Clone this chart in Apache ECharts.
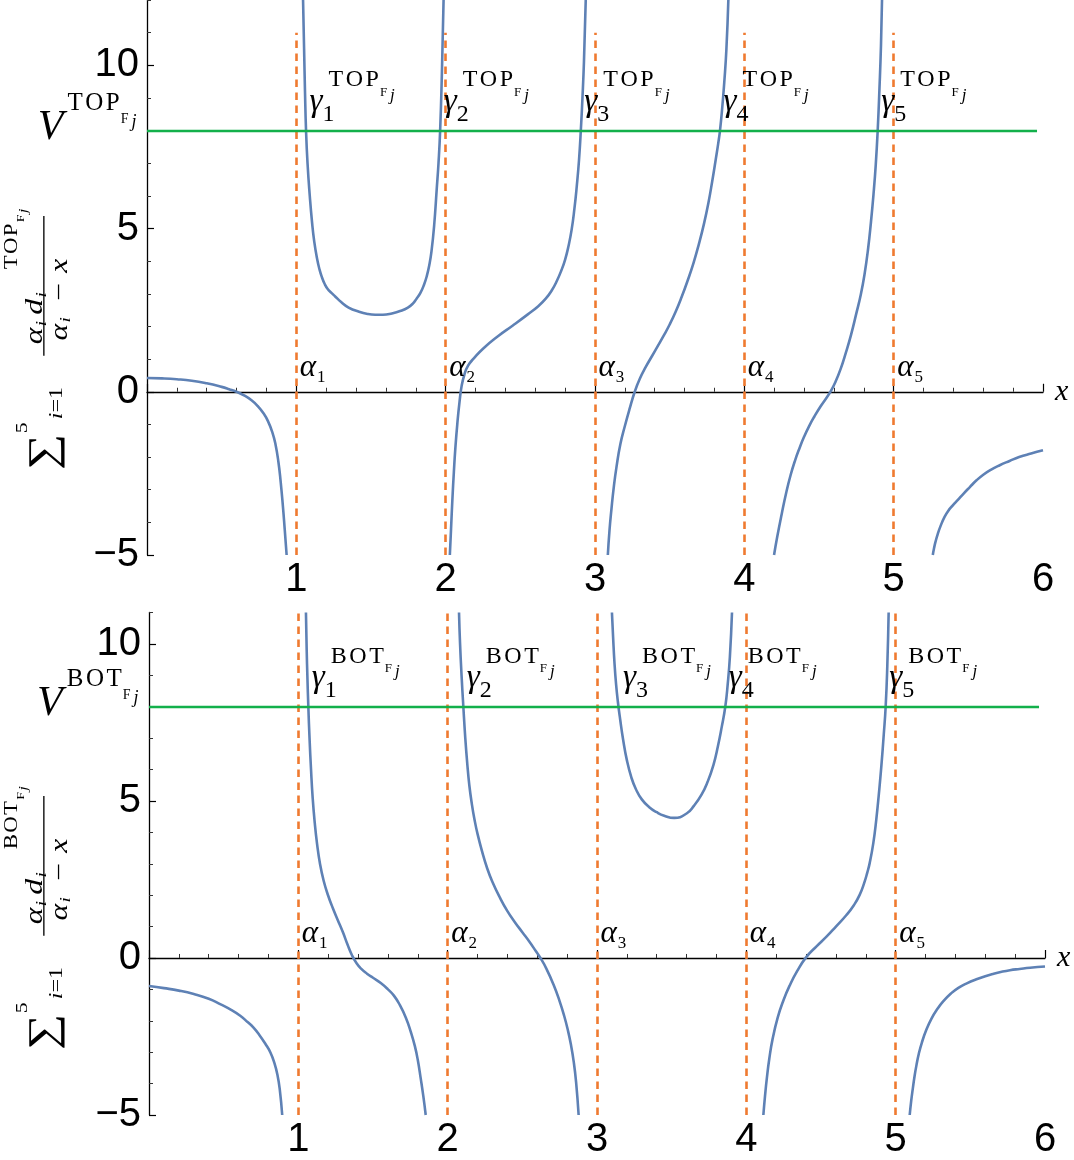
<!DOCTYPE html>
<html><head><meta charset="utf-8">
<script src="https://cdn.jsdelivr.net/npm/echarts@6/dist/echarts.min.js"></script>
<style>html,body{margin:0;padding:0;background:#fff}#c{width:1074px;height:1160px}</style>
</head><body><div id="c"></div>
<script>
// ---------- data ----------
const alphas = [1, 2, 3, 4, 5];
const vLevel = 8;
const xTicks = [1, 2, 3, 4, 5, 6];
const yTicks = [-5, 0, 5, 10];
const xRange = [0, 6];
const topRangeY = [-5, 12];
const botRangeY = [-5, 11];
const dashRange = [-5, 11];
const greenEnd = 5.96;
const gammaTop = [1.065, 1.963, 2.905, 3.837, 4.893];
const gammaBot = [1.067, 2.105, 3.151, 3.859, 4.933];

const topBranch1 = [[0,0.42],[0.1,0.41],[0.2,0.385],[0.3,0.34],[0.4,0.26],[0.5,0.15],[0.55,0.08],[0.6,0.0],[0.65,-0.11],[0.7,-0.26],[0.74,-0.43],[0.78,-0.66],[0.81,-0.9],[0.84,-1.25],[0.86,-1.6],[0.88,-2.15],[0.895,-2.75],[0.91,-3.5],[0.922,-4.2],[0.935,-5]];
const topBranch2 = [[1.045,12],[1.052,10.5],[1.058,9.2],[1.065,8],[1.075,7.0],[1.09,6.0],[1.105,5.2],[1.12,4.6],[1.14,4.05],[1.155,3.75],[1.172,3.5],[1.19,3.3],[1.21,3.15],[1.235,3.03],[1.26,2.92],[1.30,2.75],[1.35,2.58],[1.42,2.45],[1.48,2.38],[1.528,2.36],[1.58,2.36],[1.64,2.4],[1.70,2.48],[1.747,2.58],[1.78,2.7],[1.805,2.85],[1.83,3.02],[1.855,3.28],[1.874,3.55],[1.89,3.87],[1.905,4.3],[1.923,5.1],[1.94,6.2],[1.952,7.0],[1.963,8],[1.975,9.8],[1.986,12]];
const topBranch3 = [[2.028,-5],[2.036,-4.2],[2.045,-3.3],[2.055,-2.45],[2.065,-1.72],[2.078,-0.98],[2.093,-0.3],[2.107,0.18],[2.125,0.52],[2.15,0.8],[2.19,1.03],[2.25,1.32],[2.35,1.7],[2.45,2.03],[2.55,2.37],[2.62,2.62],[2.67,2.85],[2.71,3.1],[2.745,3.4],[2.775,3.72],[2.80,4.05],[2.822,4.45],[2.843,4.95],[2.862,5.6],[2.878,6.3],[2.893,7.1],[2.905,8],[2.916,9.0],[2.926,10.1],[2.938,12]];
const topBranch4 = [[3.086,-5],[3.097,-4.25],[3.11,-3.6],[3.125,-2.95],[3.144,-2.3],[3.17,-1.6],[3.2,-1.05],[3.23,-0.55],[3.266,0],[3.3,0.4],[3.34,0.76],[3.38,1.08],[3.42,1.4],[3.46,1.72],[3.5,2.06],[3.54,2.45],[3.58,2.9],[3.62,3.4],[3.66,3.95],[3.696,4.53],[3.73,5.15],[3.76,5.8],[3.785,6.45],[3.808,7.1],[3.825,7.6],[3.837,8],[3.852,8.7],[3.866,9.5],[3.88,10.5],[3.893,12]];
const topBranch5 = [[4.199,-5],[4.22,-4.45],[4.25,-3.75],[4.28,-3.1],[4.31,-2.55],[4.34,-2.1],[4.37,-1.72],[4.40,-1.38],[4.434,-1.05],[4.47,-0.75],[4.51,-0.45],[4.545,-0.22],[4.579,0.02],[4.61,0.3],[4.645,0.7],[4.68,1.2],[4.715,1.75],[4.75,2.4],[4.78,2.98],[4.805,3.6],[4.828,4.35],[4.848,5.2],[4.865,6.05],[4.88,6.95],[4.893,8],[4.905,9.3],[4.915,10.6],[4.922,12]];
const topBranch6 = [[5.262,-5],[5.27,-4.8],[5.28,-4.6],[5.295,-4.36],[5.315,-4.1],[5.34,-3.84],[5.365,-3.65],[5.396,-3.48],[5.43,-3.31],[5.47,-3.11],[5.51,-2.92],[5.553,-2.72],[5.6,-2.54],[5.65,-2.39],[5.71,-2.25],[5.776,-2.12],[5.84,-2.0],[5.92,-1.89],[6.0,-1.79]];

const botBranch1 = [[0,-0.89],[0.1,-0.96],[0.2,-1.04],[0.3,-1.15],[0.4,-1.3],[0.48,-1.48],[0.55,-1.65],[0.611,-1.84],[0.66,-2.04],[0.7,-2.22],[0.74,-2.46],[0.78,-2.74],[0.813,-3.01],[0.84,-3.35],[0.86,-3.72],[0.876,-4.2],[0.892,-5]];
const botBranch2 = [[1.051,11],[1.056,9.8],[1.061,8.9],[1.067,8],[1.075,7.0],[1.085,6.0],[1.096,5.1],[1.11,4.3],[1.125,3.65],[1.145,3.0],[1.17,2.45],[1.2,1.98],[1.23,1.6],[1.263,1.22],[1.3,0.8],[1.33,0.42],[1.36,0.08],[1.39,-0.17],[1.42,-0.34],[1.46,-0.5],[1.5,-0.63],[1.552,-0.8],[1.6,-1.0],[1.64,-1.2],[1.68,-1.5],[1.72,-1.9],[1.753,-2.35],[1.78,-2.8],[1.80,-3.25],[1.82,-3.85],[1.837,-4.4],[1.853,-5]];
const botBranch3 = [[2.076,11],[2.083,10.0],[2.093,9.0],[2.105,8],[2.118,7.0],[2.131,6.2],[2.145,5.5],[2.162,4.9],[2.18,4.4],[2.2,3.95],[2.23,3.4],[2.265,2.85],[2.3,2.42],[2.35,1.92],[2.399,1.5],[2.45,1.14],[2.5,0.82],[2.55,0.5],[2.59,0.22],[2.621,0],[2.66,-0.33],[2.71,-0.86],[2.75,-1.38],[2.78,-1.84],[2.805,-2.3],[2.825,-2.75],[2.844,-3.3],[2.86,-3.95],[2.877,-5]];
const botBranch4 = [[3.10,11],[3.108,10.2],[3.117,9.4],[3.128,8.7],[3.14,8.15],[3.155,7.6],[3.175,6.95],[3.20,6.3],[3.23,5.75],[3.26,5.38],[3.3,5.05],[3.35,4.8],[3.40,4.64],[3.45,4.53],[3.517,4.46],[3.6,4.6],[3.65,4.85],[3.7,5.2],[3.74,5.6],[3.78,6.15],[3.81,6.75],[3.835,7.35],[3.859,8],[3.875,8.7],[3.89,9.6],[3.904,11]];
const botBranch5 = [[4.114,-5],[4.125,-4.4],[4.138,-3.8],[4.154,-3.2],[4.175,-2.6],[4.21,-1.9],[4.25,-1.33],[4.289,-0.89],[4.34,-0.42],[4.40,0.02],[4.47,0.37],[4.535,0.67],[4.6,1.0],[4.669,1.36],[4.72,1.68],[4.758,2.0],[4.79,2.4],[4.81,2.72],[4.826,3.02],[4.85,3.65],[4.87,4.4],[4.888,5.25],[4.904,6.1],[4.92,7.1],[4.933,8],[4.944,9.3],[4.953,11]];
const botBranch6 = [[5.094,-5],[5.104,-4.55],[5.115,-4.15],[5.127,-3.75],[5.139,-3.42],[5.155,-3.05],[5.175,-2.7],[5.206,-2.28],[5.24,-1.93],[5.28,-1.62],[5.318,-1.38],[5.37,-1.13],[5.42,-0.95],[5.48,-0.8],[5.541,-0.68],[5.6,-0.58],[5.65,-0.51],[5.71,-0.44],[5.765,-0.39],[5.83,-0.35],[5.9,-0.31],[6.0,-0.27]];

const topBranches = [topBranch1, topBranch2, topBranch3, topBranch4, topBranch5, topBranch6];
const botBranches = [botBranch1, botBranch2, botBranch3, botBranch4, botBranch5, botBranch6];

// ---------- styling ----------
const SERIF = '"Liberation Serif", "Times New Roman", serif';
const SANS = '"Liberation Sans", Arial, sans-serif';
const BLUE = '#5E81B5', ORANGE = '#EF7A30', GREEN = '#13B04B';

function spaced(word, a, b) {
  return word.split('').map((ch, k, arr) => `{${k < arr.length - 1 ? a : b}|${ch}}`).join('');
}

const richAll = {
  g: {fontFamily: SERIF, fontStyle: 'italic', fontSize: 33, color: '#000'},
  n: {fontFamily: SERIF, fontSize: 24, color: '#000', padding: [24, 0, 0, 0], width: 6},
  sa: {fontFamily: SERIF, fontSize: 24, color: '#000', padding: [0, 2.5, 45, 0]},
  sb: {fontFamily: SERIF, fontSize: 24, color: '#000', padding: [0, 1, 45, 0]},
  F: {fontFamily: SERIF, fontSize: 13, color: '#000', padding: [0, 3, 20, 0]},
  j: {fontFamily: SERIF, fontStyle: 'italic', fontSize: 17, color: '#000', padding: [0, 0, 14, 0]},
  a: {fontFamily: SERIF, fontStyle: 'italic', fontSize: 31, color: '#000'},
  m: {fontFamily: SERIF, fontSize: 17, color: '#000', padding: [19, 0, 0, 1]},
  V: {fontFamily: SERIF, fontStyle: 'italic', fontSize: 42, color: '#000', padding: [0, 4, 0, 0]},
  va: {fontFamily: SERIF, fontSize: 25, color: '#000', padding: [0, 2.5, 48, 0]},
  vb: {fontFamily: SERIF, fontSize: 25, color: '#000', padding: [0, 1, 48, 0]},
  F2: {fontFamily: SERIF, fontSize: 14, color: '#000', padding: [0, 3, 16, 0]},
  j2: {fontFamily: SERIF, fontStyle: 'italic', fontSize: 18, color: '#000', padding: [0, 0, 10, 0]}
};

function panelMarks(word, gammas) {
  const points = [];
  points.push({coord: [xRange[0], vLevel],
    label: {formatter: '{V|V}' + spaced(word, 'va', 'vb') + '{F2|F}{j2|j}', position: 'left', distance: 10, offset: [0, -3]}});
  gammas.forEach((g, i) => points.push({coord: [g, vLevel],
    label: {formatter: `{g|γ}{n|${i + 1}}` + spaced(word, 'sa', 'sb') + '{F|F}{j|j}', position: 'right', distance: 3, offset: [0, -28]}}));
  alphas.forEach((a, i) => points.push({coord: [a, 0],
    label: {formatter: `{a|α}{m|${i + 1}}`, position: 'right', distance: 3, offset: [0, -24]}}));
  return points;
}

function makeSeries(branches, axisIdx, word, gammas) {
  return branches.map((br, k) => {
    const s = {
      type: 'line', xAxisIndex: axisIdx, yAxisIndex: axisIdx * 2, data: br,
      showSymbol: false, smooth: 0.5, clip: true,
      lineStyle: {color: BLUE, width: 2.6}, itemStyle: {color: BLUE},
      animation: false, silent: true, z: 3
    };
    if (k === 0) {
      s.markLine = {
        silent: true, symbol: ['none', 'none'], animation: false,
        label: {show: false},
        lineStyle: {color: ORANGE, width: 2.6, type: [7.5, 5.5]},
        data: alphas.map(a => [{coord: [a, dashRange[0]]}, {coord: [a, dashRange[1]]}])
      };
      s.markPoint = {
        silent: true, animation: false, symbol: 'circle', symbolSize: 1,
        itemStyle: {color: 'rgba(0,0,0,0)'},
        label: {show: true, rich: richAll, color: '#000'},
        data: panelMarks(word, gammas)
      };
    }
    if (k === 1) {
      s.markLine = {
        silent: true, symbol: ['none', 'none'], animation: false,
        label: {show: false},
        lineStyle: {color: GREEN, width: 2.4, type: 'solid'},
        data: [[{coord: [xRange[0], vLevel]}, {coord: [greenEnd, vLevel]}]]
      };
    }
    return s;
  });
}

function xAxisCfg(gi) {
  return {
    gridIndex: gi, type: 'value', min: xRange[0], max: xRange[1], interval: 1,
    axisLine: {show: true, onZero: true, lineStyle: {color: '#000', width: 1.3}},
    axisTick: {show: true, inside: true, length: 8, lineStyle: {color: '#000', width: 1.2}},
    minorTick: {show: true, splitNumber: 5, length: 4, lineStyle: {color: '#333', width: 1}},
    splitLine: {show: false},
    axisLabel: {formatter: v => xTicks.includes(v) ? String(v) : '', fontFamily: SANS, fontSize: 40, color: '#000', margin: 5},
    name: 'x', nameLocation: 'end', nameGap: 12,
    nameTextStyle: {fontFamily: SERIF, fontStyle: 'italic', fontSize: 30, color: '#000', padding: [0, 0, 8, 0]}
  };
}
function yAxisMain(gi, rng) {
  return {
    gridIndex: gi, type: 'value', min: rng[0], max: rng[1], interval: 1, position: 'left',
    axisLine: {show: true, onZero: true, lineStyle: {color: '#000', width: 1.3}},
    axisTick: {show: true, inside: true, length: 4, lineStyle: {color: '#333', width: 1}},
    splitLine: {show: false},
    axisLabel: {formatter: v => yTicks.includes(v) ? (v < 0 ? '\u2212' + (-v) : String(v)) : '',
      fontFamily: SANS, fontSize: 40, color: '#000', margin: 8}
  };
}
function yAxisMajor(gi, rng) {
  return {
    gridIndex: gi, type: 'value', min: rng[0], max: rng[1], position: 'left',
    axisLine: {show: false, onZero: false},
    axisTick: {show: true, inside: true, length: 7, customValues: yTicks, lineStyle: {color: '#000', width: 1.2}},
    axisLabel: {show: false}, splitLine: {show: false}
  };
}

function yTitle(word, baseY) {
  const rich = {
    a: {fontFamily: SERIF, fontStyle: 'italic', fontSize: 25, color: '#000'},
    s: {fontFamily: SERIF, fontStyle: 'italic', fontSize: 15, color: '#000', padding: [12, 5, 0, 1]},
    o: {fontFamily: SERIF, fontSize: 25, color: '#000', padding: [0, 8, 0, 8]},
    T: {fontFamily: SERIF, fontSize: 18, color: '#000', padding: [0, 1, 0, 0]},
    Tb: {fontFamily: SERIF, fontSize: 18, color: '#000', padding: [0, 1, 0, 0]},
    F: {fontFamily: SERIF, fontSize: 11, color: '#000', padding: [18, 1, 0, 0]},
    j: {fontFamily: SERIF, fontStyle: 'italic', fontSize: 13, color: '#000', padding: [22, 0, 0, 0]},
    i: {fontFamily: SERIF, fontStyle: 'italic', fontSize: 19, color: '#000'},
    r: {fontFamily: SERIF, fontSize: 19, color: '#000'}
  };
  const txt = (x, y, text, extra) => ({type: 'text', x, y, silent: true,
    style: Object.assign({text, rich, fill: '#000', align: 'left', verticalAlign: 'middle'}, extra || {})});
  return {
    type: 'group', x: 0, y: baseY, rotation: Math.PI / 2, scaleX: 1.27, scaleY: 1.02, silent: true,
    children: [
      txt(0, 44, '\u2211', {font: `40px ${SERIF}`}),
      txt(29, 22, '5', {font: `17px ${SERIF}`}),
      txt(40, 56, '{i|i}{r|=1}'),
      txt(99, 35, '{a|α}{s|i}{a|d}{s|i}'),
      txt(158, 12, spaced(word, 'T', 'Tb') + '{F|F}{j|j}'),
      {type: 'line', silent: true, shape: {x1: 90, y1: 43, x2: 200, y2: 43}, style: {stroke: '#000', lineWidth: 1.3}},
      txt(102, 59, '{a|α}{s|i}{o|\u2212}{a|x}')
    ]
  };
}

const chart = echarts.init(document.getElementById('c'), null, {renderer: 'canvas'});
chart.setOption({
  animation: false,
  backgroundColor: '#fff',
  grid: [
    {left: 147, width: 896, top: 0, height: 555},
    {left: 149, width: 896, top: 612.5, height: 522.5}
  ],
  xAxis: [xAxisCfg(0), xAxisCfg(1)],
  yAxis: [yAxisMain(0, topRangeY), yAxisMajor(0, topRangeY), yAxisMain(1, botRangeY), yAxisMajor(1, botRangeY)],
  series: [
    ...makeSeries(topBranches, 0, 'TOP', gammaTop),
    ...makeSeries(botBranches, 1, 'BOT', gammaBot)
  ],
  graphic: [yTitle('TOP', 470), yTitle('BOT', 1050)]
});
</script></body></html>
